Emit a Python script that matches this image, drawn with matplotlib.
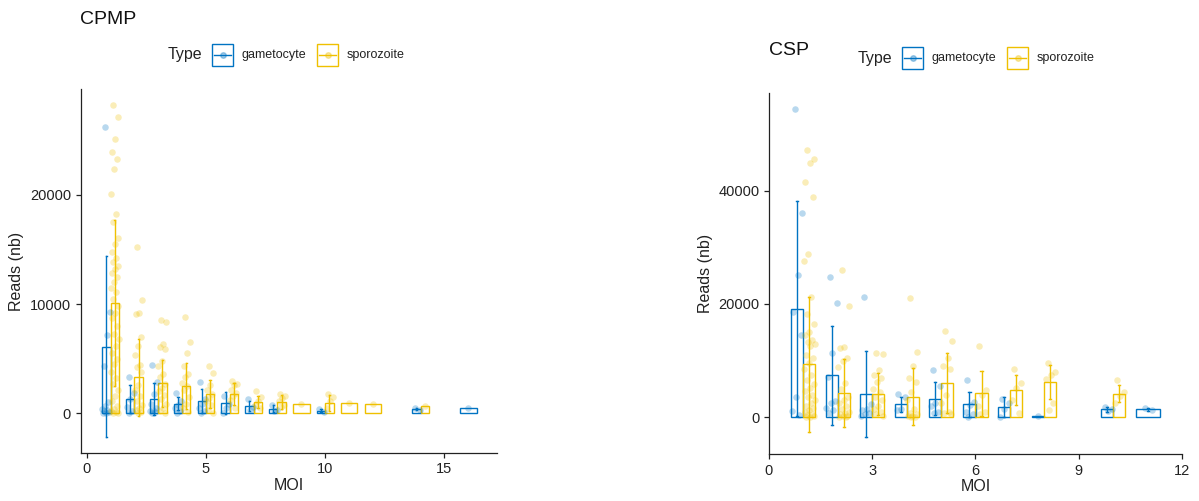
import numpy as np
import matplotlib
matplotlib.use("Agg")
import matplotlib.pyplot as plt
from matplotlib.patches import Rectangle
from matplotlib.lines import Line2D

plt.rcParams["font.family"] = ["Liberation Sans", "DejaVu Sans"]

BLUE = "#0073C2"
YELLOW = "#EFC000"

# ---- CPMP data ----
cpmp_gam_moi = [1, 2, 3, 4, 5, 6, 7, 8, 10, 14, 16]
cpmp_gam_mean = [6100, 1300, 1300, 880, 1130, 910, 670, 430, 240, 430, 520]
cpmp_gam_sd = [8300, 1300, 1470, 610, 1060, 1010, 430, 300, 150, 100, 0]
cpmp_gam_pts = [
    [26200, 9300, 7200, 4300, 1000, 700, 400, 300, 200, 100, 50, 0],
    [3300, 1900, 1300, 600, 200, 0],
    [4400, 2900, 1800, 900, 500, 300, 200, 100, 0],
    [1900, 1100, 760, 460, 200, 0],
    [2900, 1300, 900, 500, 200, 0],
    [1600, 900, 500, 0],
    [1300, 600, 300],
    [760, 300, 200],
    [400, 100],
    [500, 350],
    [520],
]

cpmp_spo_moi = [1, 2, 3, 4, 5, 6, 7, 8, 9, 10, 11, 12, 14]
cpmp_spo_mean = [10100, 3300, 2740, 2500, 1770, 1770, 1040, 1040, 820, 940, 910, 850, 700]
cpmp_spo_sd = [7600, 3500, 2130, 2070, 1270, 1030, 570, 600, 0, 730, 0, 0, 0]
cpmp_spo_pts = [
    [28200, 27100, 25100, 23900, 23300, 22350, 20050, 18250, 17500, 16000, 15500,
     14800, 14200, 13800, 13500, 13200, 12800, 12500, 12000, 11500, 11100, 10500,
     9800, 9200, 8700, 8000, 7300, 6800, 6200, 5500, 5000, 4500, 3800, 3200, 2700,
     2100, 1600, 1100, 700, 400, 200, 100, 0, 0],
    [15200, 10400, 9200, 9100, 7000, 6200, 5300, 4400, 4200, 3800, 2600, 2100,
     1600, 1100, 800, 500, 300, 100, 0],
    [8500, 8400, 6300, 6100, 5900, 4800, 4300, 3600, 3300, 2700, 2300, 2000, 1700,
     1300, 900, 500, 200, 0],
    [8800, 6500, 5500, 4300, 3600, 3300, 2800, 2500, 2100, 1500, 900, 500, 100],
    [4300, 3700, 2600, 2100, 1800, 1400, 1100, 800, 300, 0],
    [3000, 2700, 2600, 2100, 1900, 1600, 1200, 500],
    [2000, 1500, 1100, 800, 500],
    [1800, 1600, 1400, 1100, 800, 600],
    [820],
    [1800, 1500, 1100, 500],
    [910],
    [850],
    [700],
]

# ---- CSP data ----
csp_gam_moi = [1, 2, 3, 4, 5, 6, 7, 8, 10, 11]
csp_gam_mean = [19170, 7410, 4060, 2290, 3290, 2290, 1880, 200, 1410, 1410]
csp_gam_sd = [19000, 8700, 7600, 1350, 2950, 2230, 1760, 0, 400, 250]
csp_gam_pts = [
    [54440, 36120, 25060, 18640, 14470, 3640, 1110, 400],
    [24700, 20200, 11300, 7100, 2900, 2500, 1600, 1200, 800],
    [21200, 2300, 1500, 1200, 800, 500, 300],
    [4100, 3600, 1500, 1200],
    [8300, 5500, 2500, 2000, 1000, 800],
    [6600, 2700, 2200, 1000, 500, 0],
    [3300, 2500, 1500, 100],
    [200],
    [1760, 1400, 1100],
    [1700, 1200],
]

csp_spo_moi = [1, 2, 3, 4, 5, 6, 7, 8, 10]
csp_spo_mean = [9350, 4300, 4060, 3640, 6000, 4240, 4820, 6230, 4170]
csp_spo_sd = [11900, 6000, 3700, 5000, 5300, 3930, 2620, 3000, 1500]
csp_spo_pts = [
    [47180, 45650, 44840, 41480, 38830, 28830, 27640, 21240, 18180, 16420, 15000,
     14500, 13650, 13300, 13000, 12500, 11000, 10500, 9500, 8500, 7500, 6500, 5800,
     5200, 4600, 4000, 3500, 3000, 2500, 2000, 1600, 1200, 900, 600, 400, 200, 100, 0],
    [26000, 19700, 12400, 12200, 10500, 10000, 8900, 6000, 5000, 3500, 3000, 2500,
     2000, 1500, 1000, 800, 500, 300, 200, 100, 0],
    [11400, 11200, 8400, 7500, 7000, 6200, 5000, 4500, 3500, 3000, 2000, 1500, 1000,
     500, 200],
    [21000, 11500, 9000, 7000, 6200, 4500, 3000, 1500, 800, 500, 300, 200, 100, 0],
    [15200, 13500, 10500, 9000, 8500, 4000, 2500, 1000, 700, 500],
    [12600, 4800, 3900, 2000, 900, 500],
    [8600, 6100, 5200, 3000, 700],
    [9500, 8000, 7500, 6700, 2600, 1300],
    [6600, 4500, 3800, 2500],
]

W, H = 1199, 501
BAR_W = 0.7


def fx(x):
    return x / W


def fy(y):
    return 1 - y / H


def draw_panel(ax, gam, spo):
    gam_moi = gam[0]
    spo_moi = spo[0]
    for (moi, mean, sd, pts), col, side in ((gam, BLUE, -1), (spo, YELLOW, 1)):
        other = spo_moi if side == -1 else gam_moi
        for m, mu, s, p in zip(moi, mean, sd, pts):
            if m in other:
                w = BAR_W / 2
                c = m + side * w / 2
            else:
                w = BAR_W
                c = m
            ax.add_patch(Rectangle((c - w / 2, 0), w, mu, facecolor="none",
                                   edgecolor=col, linewidth=1.0, zorder=2))
            if s > 0:
                ax.plot([c, c], [mu - s, mu + s], color=col, lw=1.0, zorder=3)
                ax.plot([c - 0.03, c + 0.03], [mu + s, mu + s], color=col, lw=1.0, zorder=3)
                ax.plot([c - 0.03, c + 0.03], [mu - s, mu - s], color=col, lw=1.0, zorder=3)
            n = len(p)
            if n == 1:
                off = np.zeros(1)
            else:
                # fixed spread pattern so points don't pile up on one line
                off = ((np.arange(n) * 0.618 + 0.3) % 1 - 0.5) * min(w, 0.35) * 0.95
            ax.scatter(c + off, p, s=22, color=col, alpha=0.28, linewidths=0, zorder=4)
    for sp in ("top", "right"):
        ax.spines[sp].set_visible(False)
    for sp in ("left", "bottom"):
        ax.spines[sp].set_linewidth(0.9)
        ax.spines[sp].set_color("#222222")
    ax.tick_params(axis="both", labelsize=10.5, length=3.5, width=0.9, colors="#222222",
                   labelcolor="#222222")
    ax.set_xlabel("MOI", fontsize=11.5, labelpad=1, color="#222222")
    ax.set_ylabel("Reads (nb)", fontsize=11.5, labelpad=4, color="#222222")


def draw_legend(fig, x0, yc):
    fig.text(fx(x0), fy(yc), "Type", fontsize=11.5, va="center", ha="left", color="#222222")
    items = [("gametocyte", BLUE, x0 + 44), ("sporozoite", YELLOW, x0 + 149)]
    for lab, col, kx in items:
        fig.patches.append(Rectangle((fx(kx), fy(yc + 11)), 21 / W, 22 / H,
                                     transform=fig.transFigure, facecolor="white",
                                     edgecolor=col, linewidth=1.0))
        fig.lines.append(Line2D([fx(kx + 2), fx(kx + 19)], [fy(yc), fy(yc)],
                                transform=fig.transFigure, color=col, lw=1.0))
        fig.lines.append(Line2D([fx(kx + 10.5)], [fy(yc)], transform=fig.transFigure,
                                marker="o", markersize=4, color=col, alpha=0.35, lw=0))
        fig.text(fx(kx + 30), fy(yc), lab, fontsize=9, va="center", ha="left", color="#222222")


fig = plt.figure(figsize=(W / 100, H / 100), dpi=100)

ax1 = fig.add_axes([fx(80.7), fy(452.7), fx(496.7 - 80.7), (452.7 - 89.3) / H])
draw_panel(ax1, (cpmp_gam_moi, cpmp_gam_mean, cpmp_gam_sd, cpmp_gam_pts),
           (cpmp_spo_moi, cpmp_spo_mean, cpmp_spo_sd, cpmp_spo_pts))
ax1.set_xlim(-0.25, 17.19)
ax1.set_ylim(-3600, 29640)
ax1.set_xticks([0, 5, 10, 15])
ax1.set_yticks([0, 10000, 20000])

ax2 = fig.add_axes([fx(769), fy(454), fx(1182 - 769), (454 - 92.7) / H])
draw_panel(ax2, (csp_gam_moi, csp_gam_mean, csp_gam_sd, csp_gam_pts),
           (csp_spo_moi, csp_spo_mean, csp_spo_sd, csp_spo_pts))
ax2.set_xlim(0, 12)
ax2.set_ylim(-6480, 57300)
ax2.set_xticks([0, 3, 6, 9, 12])
ax2.set_yticks([0, 20000, 40000])

fig.text(fx(80), fy(24), "CPMP", fontsize=14, ha="left", va="baseline", color="#111111")
fig.text(fx(769), fy(55), "CSP", fontsize=14, ha="left", va="baseline", color="#111111")

draw_legend(fig, 168, 55)
draw_legend(fig, 858, 58)

fig.savefig("out.png", dpi=100)
